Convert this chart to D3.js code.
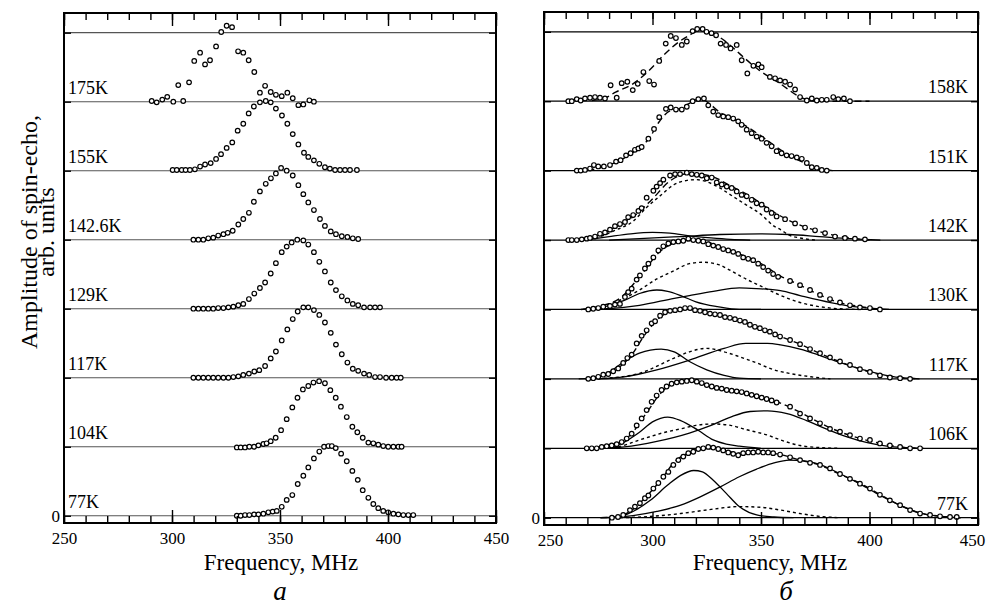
<!DOCTYPE html>
<html>
<head>
<meta charset="utf-8">
<script src="https://cdn.jsdelivr.net/npm/d3@7"></script>
<style>
  body { margin: 0; background: #fff; }
  text { font-family: "Liberation Serif", "Times New Roman", "DejaVu Serif", serif; fill: #000; }
</style>
</head>
<body>
<script>
// ---- panel a : spectra, [frequency MHz, amplitude] ----
const leftTemps = ['175K', '155K', '142.6K', '129K', '117K', '104K', '77K'];

const a175 = [[290.6,0.01],[292.9,-0.01],[295.5,0.03],[297.8,0.07],[300.6,0.0],[302.9,0.24],[305.2,0.01],[307.9,0.28],[310.3,0.59],[313.0,0.71],[315.3,0.54],[317.6,0.60],[320.4,0.80],[322.8,1.01],[325.3,1.10],[327.8,1.08],[330.6,0.73],[333.0,0.71],[335.5,0.60],[338.1,0.43],[340.7,0.13],[343.1,0.23],[345.7,0.14],[348.1,0.10],[350.8,0.08],[353.4,0.13],[355.9,0.05],[358.5,-0.05],[360.8,-0.04],[363.6,0.02],[365.7,0.0]];
const a155 = [[300.3,0.01],[302.2,0.01],[304.5,0.01],[306.3,0.01],[308.3,0.01],[310.6,0.02],[313.0,0.06],[315.3,0.09],[317.9,0.11],[320.4,0.17],[322.7,0.24],[325.3,0.33],[327.9,0.41],[330.4,0.58],[333.0,0.68],[335.5,0.83],[337.9,0.93],[340.7,0.99],[343.4,1.01],[345.7,0.99],[348.1,0.90],[350.9,0.80],[353.4,0.68],[355.9,0.53],[358.5,0.38],[361.1,0.26],[363.1,0.20],[365.7,0.15],[368.2,0.10],[370.8,0.05],[373.1,0.03],[375.5,0.01],[377.8,0.01],[380.1,0.01],[382.4,0.01],[385.6,0.01]];
const a142 = [[309.9,0.0],[312.2,0.0],[314.5,0.0],[316.8,0.02],[319.1,0.03],[321.4,0.06],[323.8,0.08],[325.8,0.10],[328.1,0.13],[330.7,0.22],[333.0,0.30],[335.6,0.39],[337.9,0.55],[340.7,0.70],[343.4,0.81],[345.8,0.89],[348.1,0.96],[350.5,1.04],[353.1,1.00],[355.9,0.93],[358.5,0.79],[360.8,0.66],[363.1,0.54],[365.7,0.43],[368.5,0.30],[370.8,0.20],[373.5,0.12],[375.9,0.08],[378.6,0.05],[381.2,0.04],[383.7,0.02],[386.2,0.01]];
const a129 = [[309.9,0.0],[312.2,0.0],[314.5,0.0],[316.8,0.0],[319.1,0.0],[321.4,0.01],[323.8,0.01],[326.1,0.02],[328.4,0.03],[330.7,0.05],[333.0,0.07],[335.6,0.14],[338.1,0.22],[340.7,0.30],[343.1,0.38],[345.7,0.51],[348.1,0.66],[350.8,0.82],[353.1,0.90],[355.4,0.96],[358.0,1.00],[360.8,0.99],[363.1,0.93],[365.7,0.82],[368.2,0.68],[370.8,0.54],[373.5,0.38],[375.9,0.27],[378.6,0.18],[381.2,0.12],[383.7,0.07],[386.2,0.05],[388.9,0.02],[391.7,0.02],[394.0,0.02],[396.3,0.02]];
const a117 = [[309.9,0.0],[312.2,0.0],[314.5,0.0],[316.8,0.0],[319.1,0.0],[321.4,0.0],[323.8,0.0],[326.1,0.0],[328.4,0.01],[330.7,0.02],[333.0,0.04],[335.6,0.06],[338.1,0.09],[340.4,0.11],[343.1,0.17],[345.7,0.28],[348.1,0.38],[350.8,0.54],[353.4,0.70],[355.9,0.85],[358.2,0.96],[360.8,1.02],[363.1,1.02],[365.7,0.98],[368.2,0.91],[370.8,0.80],[373.5,0.65],[375.9,0.48],[378.6,0.34],[381.2,0.22],[383.7,0.13],[386.2,0.10],[388.9,0.06],[391.3,0.04],[394.0,0.01],[396.3,0.01],[399.1,0.0],[401.7,0.0],[404.0,0.0],[405.9,0.0]];
const a104 = [[330.0,-0.01],[331.8,-0.01],[333.8,-0.01],[335.8,0.0],[338.0,0.0],[340.0,0.02],[342.3,0.04],[343.8,0.05],[345.7,0.08],[348.0,0.13],[350.5,0.24],[353.1,0.40],[355.7,0.57],[358.1,0.71],[360.6,0.83],[363.1,0.88],[365.5,0.93],[368.1,0.95],[370.8,0.92],[373.3,0.82],[375.8,0.71],[378.2,0.58],[380.9,0.43],[383.5,0.29],[385.8,0.21],[388.3,0.13],[390.9,0.06],[393.2,0.05],[395.5,0.03],[397.8,0.01],[400.1,0.0],[402.5,0.0],[404.8,0.0],[406.3,0.0]];
const a77 = [[330.0,0.0],[331.8,0.0],[333.8,0.01],[335.8,0.01],[338.0,0.02],[340.0,0.02],[342.3,0.03],[344.6,0.05],[346.6,0.06],[348.5,0.07],[350.8,0.13],[353.1,0.23],[355.7,0.30],[358.2,0.46],[360.8,0.58],[363.1,0.70],[365.7,0.83],[368.2,0.93],[370.4,1.00],[372.4,1.01],[374.0,1.01],[375.8,0.98],[378.3,0.90],[380.9,0.79],[383.5,0.65],[386.0,0.52],[388.3,0.37],[390.9,0.26],[393.2,0.17],[395.5,0.11],[397.8,0.07],[400.1,0.05],[402.5,0.03],[404.8,0.02],[407.1,0.01],[409.4,0.01],[411.7,0.01]];

// ---- panel б : spectra and fitted components ----
const rightTemps = ['158K', '151K', '142K', '130K', '117K', '106K', '77K'];

const b158 = [[261.2,0.0],[262.8,0.0],[265.1,0.03],[266.9,0.01],[268.9,0.04],[271.2,0.05],[273.5,0.06],[275.8,0.05],[278.1,0.04],[280.7,0.23],[283.5,0.05],[285.8,0.26],[288.4,0.28],[290.9,0.16],[293.2,0.25],[295.8,0.42],[298.5,0.29],[300.7,0.24],[303.1,0.58],[306.1,0.83],[308.4,0.94],[310.8,0.91],[313.5,0.81],[315.8,0.86],[318.5,1.01],[320.6,1.04],[323.1,1.04],[324.9,1.00],[327.2,0.98],[329.3,0.95],[331.4,0.83],[333.9,0.81],[336.0,0.76],[338.8,0.81],[341.1,0.59],[343.7,0.40],[346.5,0.51],[348.8,0.53],[350.3,0.49],[354.1,0.35],[356.5,0.33],[358.8,0.30],[361.1,0.28],[363.4,0.24],[365.7,0.17],[368.0,0.06],[371.1,0.01],[373.4,0.04],[375.7,0.01],[378.0,0.02],[380.3,0.02],[383.3,0.06],[385.6,0.03],[388.2,0.04],[391.0,0.0]];
const b151 = [[265.1,0.0],[266.9,0.0],[268.9,0.01],[271.2,0.03],[273.0,0.08],[275.0,0.06],[277.6,0.06],[280.4,0.08],[283.2,0.13],[285.3,0.15],[287.8,0.22],[289.9,0.25],[291.9,0.30],[293.5,0.32],[295.0,0.34],[298.1,0.46],[300.7,0.60],[303.1,0.77],[306.2,0.89],[308.4,0.91],[310.8,0.88],[313.5,0.88],[315.8,0.92],[318.5,1.00],[321.1,1.03],[323.7,1.04],[325.7,0.94],[328.0,0.85],[330.3,0.80],[332.6,0.78],[334.9,0.77],[337.2,0.75],[339.5,0.71],[341.1,0.66],[343.4,0.59],[345.7,0.54],[348.0,0.49],[350.3,0.46],[352.6,0.40],[354.9,0.35],[357.2,0.28],[359.5,0.25],[361.8,0.22],[364.1,0.21],[366.5,0.19],[368.8,0.17],[371.1,0.11],[373.4,0.05],[375.7,0.04],[378.0,0.01],[380.3,0.0]];
const b142 = [[261.2,0.0],[262.8,0.0],[265.1,0.0],[267.4,0.01],[269.7,0.02],[271.2,0.03],[273.5,0.05],[275.8,0.09],[278.1,0.11],[280.4,0.15],[282.7,0.20],[285.0,0.23],[287.3,0.26],[288.8,0.33],[291.1,0.36],[293.5,0.42],[295.0,0.46],[297.3,0.61],[300.4,0.71],[301.9,0.77],[303.5,0.82],[305.0,0.87],[308.1,0.93],[310.4,0.95],[312.7,0.95],[315.8,0.97],[318.1,0.95],[320.4,0.94],[322.7,0.93],[325.0,0.89],[327.3,0.90],[329.6,0.83],[331.9,0.80],[334.2,0.77],[336.5,0.75],[338.8,0.70],[341.1,0.65],[343.4,0.63],[345.7,0.58],[348.0,0.53],[350.3,0.51],[352.6,0.44],[354.9,0.39],[357.2,0.34],[361.1,0.30],[365.7,0.24],[370.3,0.18],[374.9,0.14],[379.5,0.10],[384.1,0.05],[388.7,0.03],[393.3,0.02],[397.9,0.01]];
const b130 = [[270.4,0.0],[272.7,0.01],[275.0,0.02],[277.3,0.04],[280.4,0.05],[282.7,0.07],[285.0,0.08],[287.3,0.18],[288.8,0.25],[290.4,0.30],[292.7,0.43],[294.2,0.49],[296.5,0.59],[298.1,0.66],[300.4,0.75],[302.7,0.85],[305.0,0.91],[307.3,0.95],[309.6,0.97],[311.9,0.98],[314.2,0.99],[316.5,1.02],[318.8,1.00],[321.1,0.99],[323.4,0.98],[325.7,0.94],[328.0,0.92],[330.3,0.90],[332.6,0.87],[334.9,0.85],[337.2,0.83],[339.5,0.80],[341.8,0.75],[344.1,0.73],[346.4,0.71],[348.7,0.66],[351.0,0.61],[353.3,0.56],[355.6,0.51],[357.9,0.47],[363.4,0.41],[368.0,0.35],[372.6,0.28],[377.2,0.21],[381.8,0.15],[386.4,0.10],[391.0,0.06],[395.6,0.03],[400.2,0.02],[404.8,0.0]];
const b117 = [[270.4,0.0],[272.7,0.01],[275.0,0.03],[277.3,0.06],[279.6,0.07],[281.9,0.11],[284.2,0.15],[286.5,0.23],[288.4,0.30],[290.4,0.35],[292.7,0.51],[295.0,0.62],[297.3,0.70],[299.6,0.80],[301.2,0.83],[303.5,0.91],[305.8,0.96],[308.1,0.98],[310.4,0.99],[312.7,1.00],[315.0,1.02],[317.3,1.02],[319.6,0.99],[321.9,0.98],[324.2,0.96],[326.5,0.94],[328.8,0.93],[331.1,0.92],[333.4,0.89],[335.7,0.88],[338.0,0.86],[340.3,0.84],[342.6,0.82],[344.9,0.78],[347.2,0.75],[349.5,0.73],[351.8,0.70],[354.1,0.68],[356.5,0.64],[358.8,0.61],[363.4,0.56],[368.0,0.50],[372.6,0.43],[377.2,0.37],[381.8,0.31],[386.4,0.25],[391.0,0.20],[395.6,0.14],[400.2,0.10],[404.8,0.05],[409.4,0.02],[414.1,0.01],[418.7,0.0]];
const b106 = [[269.7,0.0],[272.0,0.0],[274.3,0.0],[276.6,0.02],[278.9,0.03],[281.2,0.04],[283.5,0.06],[285.8,0.09],[288.1,0.14],[290.4,0.21],[292.7,0.33],[295.0,0.43],[297.3,0.55],[299.6,0.67],[301.9,0.76],[304.2,0.84],[306.5,0.89],[308.8,0.93],[311.2,0.95],[313.5,0.96],[315.8,0.97],[318.1,0.98],[320.4,0.96],[322.7,0.94],[325.0,0.91],[327.3,0.89],[329.6,0.87],[331.9,0.86],[334.2,0.84],[336.5,0.83],[338.8,0.82],[341.1,0.81],[343.4,0.79],[345.7,0.77],[348.0,0.75],[350.3,0.73],[352.6,0.71],[354.9,0.69],[357.2,0.66],[363.4,0.60],[368.0,0.50],[372.6,0.43],[377.2,0.36],[381.8,0.28],[386.4,0.24],[391.0,0.19],[395.6,0.14],[400.2,0.12],[404.8,0.07],[409.4,0.04],[414.1,0.02],[418.7,0.0],[423.3,0.0]];
const b77 = [[281.3,0.0],[284.1,0.01],[286.5,0.04],[289.6,0.11],[291.9,0.16],[294.2,0.21],[296.5,0.28],[298.1,0.32],[300.4,0.42],[302.7,0.50],[305.0,0.59],[307.3,0.66],[309.6,0.76],[311.9,0.83],[314.2,0.88],[316.5,0.93],[318.8,0.95],[321.1,0.99],[323.4,1.00],[325.7,1.02],[328.0,1.01],[330.3,0.99],[332.6,0.97],[334.9,0.94],[337.2,0.92],[339.5,0.90],[341.8,0.93],[344.1,0.94],[346.4,0.94],[348.7,0.95],[351.0,0.94],[353.3,0.94],[355.6,0.93],[358.8,0.91],[363.4,0.87],[368.0,0.83],[372.6,0.79],[377.2,0.76],[381.8,0.71],[386.4,0.63],[391.0,0.56],[395.6,0.49],[400.2,0.42],[404.8,0.33],[409.4,0.25],[414.1,0.18],[418.7,0.11],[423.3,0.06],[427.9,0.04],[432.5,0.02],[437.1,0.01],[440.2,0.01]];

// total fits (long dash)
const f158tot = [[272,0.01],[277,0.03],[283,0.13],[291,0.25],[299,0.46],[305,0.66],[312,0.85],[317,0.95],[322,1.02],[326,1.0],[331,0.92],[336,0.80],[341,0.66],[349,0.45],[359,0.25],[368,0.06],[376,0.0],[386,0.0],[400,0.0]];
const f151tot = [[270,0.0],[278,0.06],[290,0.24],[299,0.49],[303,0.70],[308,0.86],[313,0.90],[317,0.97],[322,1.04],[326,0.97],[331,0.84],[340,0.70],[350,0.50],[359,0.30],[368,0.14],[376,0.04],[383,0.0]];
const f142tot = [[262,0.0],[271,0.03],[280,0.14],[290,0.31],[299,0.56],[308,0.85],[317,0.96],[327,0.92],[336,0.78],[345,0.63],[354,0.44],[363,0.28],[373,0.16],[382,0.08],[391,0.03],[400,0.0]];
const f130tot = [[267,0.0],[276,0.05],[285,0.16],[294,0.47],[304,0.85],[313,0.98],[322,1.0],[331,0.90],[340,0.80],[350,0.66],[359,0.48],[368,0.35],[377,0.21],[386,0.10],[396,0.04],[405,0.0]];
const f117tot = [[269,0.0],[276,0.04],[283,0.13],[290,0.33],[297,0.66],[304,0.90],[310,0.99],[317,1.0],[324,0.96],[331,0.92],[340,0.84],[350,0.73],[359,0.61],[368,0.50],[377,0.37],[386,0.25],[396,0.14],[405,0.06],[414,0.02],[423,0.0]];
const f106tot = [[269,0.0],[276,0.02],[283,0.06],[290,0.20],[297,0.50],[304,0.80],[310,0.94],[317,0.98],[324,0.93],[331,0.87],[340,0.82],[350,0.74],[359,0.65],[368,0.52],[377,0.37],[386,0.24],[396,0.14],[405,0.07],[414,0.02],[423,0.0]];
const f77tot = [[276,0.0],[283,0.01],[290,0.10],[297,0.30],[304,0.55],[310,0.80],[317,0.94],[324,1.0],[331,0.98],[340,0.93],[350,0.94],[359,0.91],[368,0.83],[377,0.76],[386,0.63],[396,0.49],[405,0.33],[414,0.18],[423,0.07],[433,0.02],[442,0.0]];

// middle component (short dash)
const f142mid = [[271,0.01],[276,0.05],[282,0.13],[291,0.27],[297,0.46],[304,0.65],[310,0.80],[316,0.86],[320,0.87],[325,0.84],[331,0.75],[337,0.63],[343,0.51],[350,0.37],[356,0.20],[359,0.15],[363,0.07],[368,0.03],[375,0.0]];
const f130mid = [[271,0.01],[276,0.04],[287,0.16],[294,0.28],[302,0.44],[310,0.56],[317,0.66],[323,0.68],[330,0.65],[336,0.56],[343,0.44],[351,0.32],[357,0.23],[368,0.10],[377,0.04],[386,0.01],[395,0.0]];
const f117mid = [[272,0.0],[279,0.01],[294,0.08],[310,0.30],[317,0.39],[325,0.44],[333,0.39],[340,0.32],[348,0.23],[356,0.13],[363,0.08],[373,0.03],[382,0.0]];
const f106mid = [[276,0.0],[284,0.02],[294,0.12],[307,0.24],[313,0.28],[320,0.33],[328,0.35],[336,0.33],[343,0.27],[353,0.19],[359,0.12],[368,0.04],[377,0.01],[386,0.0]];
const f77mid = [[285,0.0],[295,0.01],[313,0.06],[327,0.12],[340,0.16],[350,0.15],[359,0.11],[368,0.06],[377,0.02],[386,0.0]];

// low and high frequency components (solid)
const f142lo = [[271,0.01],[280,0.05],[290,0.09],[300,0.11],[308,0.10],[317,0.06],[327,0.03],[336,0.01],[345,0.0]];
const f142hi = [[280,0.0],[294,0.02],[313,0.05],[331,0.08],[350,0.09],[363,0.08],[377,0.05],[391,0.02],[405,0.0]];
const f130lo = [[268,0.0],[273,0.01],[287,0.13],[294,0.23],[302,0.28],[307,0.26],[313,0.20],[320,0.11],[330,0.04],[340,0.0],[350,0.0]];
const f130hi = [[272,0.0],[279,0.01],[294,0.06],[310,0.16],[317,0.20],[328,0.26],[340,0.31],[348,0.30],[359,0.27],[368,0.20],[382,0.10],[396,0.03],[409,0.0]];
const f117lo = [[266,0.0],[271,0.01],[279,0.08],[287,0.25],[294,0.37],[304,0.43],[310,0.39],[317,0.25],[325,0.13],[333,0.05],[340,0.01],[350,0.0]];
const f117hi = [[275,0.0],[287,0.03],[302,0.13],[317,0.27],[333,0.44],[343,0.51],[353,0.51],[359,0.49],[368,0.43],[377,0.34],[386,0.24],[396,0.14],[405,0.07],[414,0.02],[423,0.0]];
const f106lo = [[270,0.0],[276,0.0],[287,0.09],[294,0.23],[300,0.38],[307,0.45],[313,0.40],[321,0.26],[328,0.12],[334,0.06],[340,0.03],[350,0.0]];
const f106hi = [[276,0.0],[287,0.02],[302,0.10],[317,0.22],[327,0.33],[336,0.45],[345,0.53],[353,0.54],[362,0.50],[371,0.40],[380,0.28],[390,0.16],[399,0.08],[408,0.03],[417,0.01],[425,0.0]];
const f77lo = [[276,0.0],[284,0.01],[291,0.09],[299,0.25],[307,0.47],[313,0.61],[319,0.68],[323,0.66],[328,0.54],[334,0.35],[340,0.16],[348,0.04],[356,0.01],[365,0.0]];
const f77hi = [[280,0.0],[291,0.03],[302,0.09],[313,0.18],[322,0.30],[331,0.44],[340,0.59],[348,0.70],[356,0.79],[363,0.83],[370,0.82],[377,0.77],[386,0.64],[396,0.48],[405,0.32],[414,0.18],[423,0.07],[433,0.02],[442,0.0]];

const xMajor = [250, 300, 350, 400, 450];
const xMinor = d3.range(250, 451, 10);
const levels = d3.range(0, 8);

const leftSeries = [a175, a155, a142, a129, a117, a104, a77].map((pts, i) => ({ label: leftTemps[i], pts, lines: [] }));
const rightSeries = [
  { pts: b158, lines: [[f158tot, 'tot']] },
  { pts: b151, lines: [[f151tot, 'tot']] },
  { pts: b142, lines: [[f142tot, 'tot'], [f142mid, 'mid'], [f142lo, 'solid'], [f142hi, 'solid']] },
  { pts: b130, lines: [[f130tot, 'tot'], [f130mid, 'mid'], [f130lo, 'solid'], [f130hi, 'solid']] },
  { pts: b117, lines: [[f117tot, 'tot'], [f117mid, 'mid'], [f117lo, 'solid'], [f117hi, 'solid']] },
  { pts: b106, lines: [[f106tot, 'tot'], [f106mid, 'mid'], [f106lo, 'solid'], [f106hi, 'solid']] },
  { pts: b77, lines: [[f77tot, 'tot'], [f77mid, 'mid'], [f77lo, 'solid'], [f77hi, 'solid']] }
].map((s, i) => Object.assign(s, { label: rightTemps[i] }));

const svg = d3.select('body').append('svg')
  .attr('width', 986).attr('height', 605);

const dash = { tot: '7,4', mid: '3,3', solid: null };
const serif = '"Liberation Serif", "Times New Roman", "DejaVu Serif", serif';

function panel(o) {
  const x = d3.scaleLinear().domain([250, 450]).range([o.left, o.right]);
  const y = d3.scaleLinear().domain([-0.105, 7.285]).range([o.bottom, o.top]);
  const g = svg.append('g');

  // baselines
  g.selectAll('line.base').data(levels).join('line')
    .attr('x1', o.left).attr('x2', o.right)
    .attr('y1', d => y(d)).attr('y2', d => y(d))
    .attr('stroke', o.baseColor).attr('stroke-width', o.baseWidth);

  o.series.forEach((s, i) => {
    const off = o.series.length - 1 - i;
    const line = d3.line()
      .x(d => x(d[0])).y(d => y(d[1] + off))
      .curve(d3.curveMonotoneX);

    s.lines.forEach(([pts, kind]) => {
      g.append('path').datum(pts)
        .attr('d', line)
        .attr('fill', 'none').attr('stroke', '#000')
        .attr('stroke-width', kind === 'solid' ? 1.3 : 1.4)
        .attr('stroke-dasharray', dash[kind]);
    });

    g.selectAll(null).data(s.pts).join('circle')
      .attr('cx', d => x(d[0])).attr('cy', d => y(d[1] + off))
      .attr('r', 2.3)
      .attr('fill', '#fff').attr('stroke', '#000').attr('stroke-width', 1.2);

    g.append('text')
      .attr('x', o.labelRight ? o.right - 10 : o.left + 4)
      .attr('y', y(off) - 8)
      .attr('text-anchor', o.labelRight ? 'end' : 'start')
      .attr('font-size', 18)
      .text(s.label);
  });

  // axes: minor and major ticks pointing inward
  const tickStyle = sel => {
    sel.select('.domain').remove();
    sel.selectAll('line').attr('stroke', '#000').attr('stroke-width', 1.4);
  };
  g.append('g').attr('transform', `translate(0,${o.bottom})`)
    .call(d3.axisBottom(x).tickValues(xMinor).tickSize(-7).tickFormat(''))
    .call(tickStyle);
  g.append('g').attr('transform', `translate(0,${o.bottom})`)
    .call(d3.axisBottom(x).tickValues(xMajor).tickSize(-13).tickPadding(9))
    .call(tickStyle)
    .selectAll('text')
    .attr('font-size', 17).attr('font-family', serif)
    .attr('dx', d => o.tickShift[d] || 0);
  g.append('g').attr('transform', `translate(0,${o.top})`)
    .call(d3.axisTop(x).tickValues(xMinor).tickSize(-7).tickFormat(''))
    .call(tickStyle);
  g.append('g').attr('transform', `translate(0,${o.top})`)
    .call(d3.axisTop(x).tickValues(xMajor).tickSize(-13).tickFormat(''))
    .call(tickStyle);
  g.append('g').attr('transform', `translate(${o.left},0)`)
    .call(d3.axisLeft(y).tickValues(levels).tickSize(-7).tickPadding(4)
      .tickFormat(d => d === 0 ? '0' : ''))
    .call(tickStyle)
    .selectAll('text').attr('font-size', 17).attr('font-family', serif);
  g.append('g').attr('transform', `translate(${o.right},0)`)
    .call(d3.axisRight(y).tickValues(levels).tickSize(-7).tickFormat(''))
    .call(tickStyle);

  g.append('rect')
    .attr('x', o.left).attr('y', o.top)
    .attr('width', o.right - o.left).attr('height', o.bottom - o.top)
    .attr('fill', 'none').attr('stroke', '#000').attr('stroke-width', 2);

  g.append('text').attr('x', o.titleX).attr('y', 570)
    .attr('text-anchor', 'middle').attr('font-size', 23)
    .text('Frequency, MHz');
  g.append('text').attr('x', o.tagX).attr('y', 600)
    .attr('text-anchor', 'middle').attr('font-size', 27).attr('font-style', 'italic')
    .text(o.tag);
}

panel({ left: 64, right: 496, top: 13, bottom: 523, series: leftSeries,
  baseColor: '#555', baseWidth: 1.1, labelRight: false,
  tickShift: {}, titleX: 281, tag: 'a', tagX: 280 });
panel({ left: 544, right: 978, top: 12, bottom: 525, series: rightSeries,
  baseColor: '#000', baseWidth: 1.3, labelRight: true,
  tickShift: { 250: 6, 450: -6 }, titleX: 770, tag: 'б', tagX: 786 });

// y axis title
const yt = svg.append('text')
  .attr('transform', 'translate(37,232) rotate(-90)')
  .attr('text-anchor', 'middle').attr('font-size', 24);
yt.append('tspan').attr('x', 0).attr('y', 0).text('Amplitude of spin-echo,');
yt.append('tspan').attr('x', 0).attr('y', 17).text('arb. units');
</script>
</body>
</html>
